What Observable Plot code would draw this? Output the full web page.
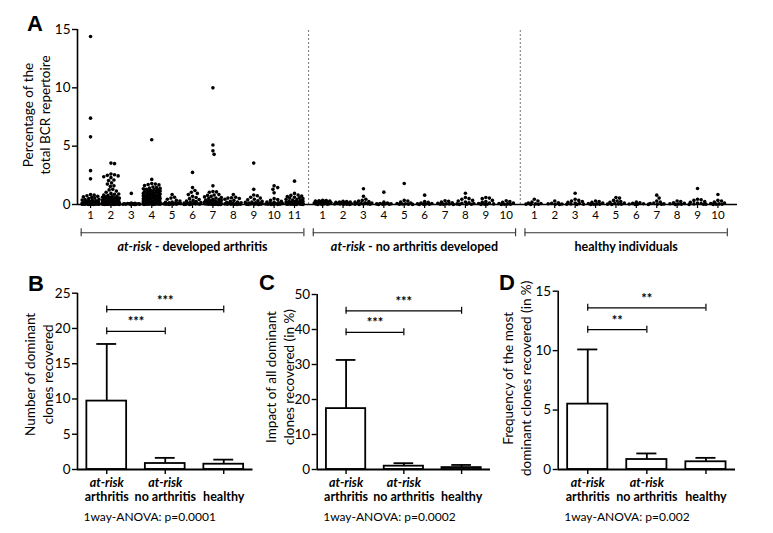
<!DOCTYPE html>
<html><head><meta charset="utf-8">
<script src="https://cdn.jsdelivr.net/npm/d3@7"></script>
<script src="https://cdn.jsdelivr.net/npm/@observablehq/plot@0.6"></script>
<style>
body{margin:0;background:#fff;}
#fig{position:relative;width:773px;height:533px;overflow:hidden;background:#fff;}
.panel{position:absolute;}
.letter{position:absolute;font-family:"Liberation Sans",Arial,sans-serif;font-weight:bold;font-size:22px;line-height:1;color:#000;}
</style></head><body><div id="fig"></div>
<script>
// ---------------- DATA ----------------
const groupNames = ["at-risk - developed arthritis", "at-risk - no arthritis developed", "healthy individuals"];

const arthritisPatients = [
  [14.4, 7.4, 5.8, 2.9, 2.2, 0.85, 0.8, 0.75, 0.7, 0.65, 0.6, 0.55, 0.5, 0.45, 0.42, 0.38, 0.35, 0.32, 0.3, 0.28, 0.25, 0.22, 0.2, 0.18, 0.16, 0.15, 0.13, 0.12, 0.1, 0.1, 0.09, 0.08, 0.07, 0.06, 0.05, 0.05, 0.04, 0.04, 0.03, 0.03, 0.02, 0.02, 0.02, 0.01, 0.01, 0.01],
  [3.55, 3.5, 2.62, 2.55, 2.5, 2.45, 2.38, 2.3, 2.1, 2.05, 1.85, 1.75, 1.6, 1.55, 1.3, 1.25, 1.15, 1.05, 0.95, 0.9, 0.88, 0.82, 0.78, 0.72, 0.68, 0.65, 0.62, 0.6, 0.58, 0.55, 0.52, 0.5, 0.48, 0.45, 0.42, 0.4, 0.38, 0.36, 0.34, 0.32, 0.3, 0.28, 0.27, 0.25, 0.24, 0.22, 0.21, 0.2, 0.19, 0.18, 0.17, 0.16, 0.15, 0.14, 0.13, 0.12, 0.11, 0.1, 0.1, 0.09, 0.09, 0.08, 0.08, 0.07, 0.07, 0.06, 0.06, 0.05, 0.05, 0.05, 0.04, 0.04, 0.04, 0.03, 0.03, 0.03, 0.02, 0.02, 0.02, 0.02, 0.01, 0.01, 0.01, 0.01],
  [0.95, 0.12, 0.1, 0.08, 0.07, 0.06, 0.05, 0.05, 0.04, 0.03, 0.03, 0.02, 0.02, 0.01, 0.01, 0.01],
  [5.55, 2.15, 1.8, 1.75, 1.72, 1.68, 1.62, 1.5, 1.45, 1.4, 1.38, 1.35, 1.3, 1.28, 1.25, 1.2, 1.18, 1.15, 1.12, 1.1, 1.05, 1.02, 1.0, 0.98, 0.95, 0.92, 0.9, 0.88, 0.85, 0.82, 0.8, 0.78, 0.75, 0.72, 0.7, 0.68, 0.65, 0.62, 0.6, 0.58, 0.55, 0.52, 0.5, 0.48, 0.45, 0.42, 0.4, 0.38, 0.36, 0.34, 0.32, 0.3, 0.28, 0.26, 0.25, 0.24, 0.22, 0.2, 0.19, 0.18, 0.17, 0.16, 0.15, 0.14, 0.13, 0.12, 0.11, 0.1, 0.1, 0.09, 0.09, 0.08, 0.08, 0.07, 0.07, 0.06, 0.06, 0.05, 0.05, 0.04, 0.04, 0.03, 0.03, 0.02, 0.02, 0.01, 0.01],
  [0.85, 0.62, 0.55, 0.45, 0.35, 0.3, 0.22, 0.18, 0.15, 0.12, 0.1, 0.08, 0.06, 0.05, 0.04, 0.03, 0.02, 0.02, 0.01],
  [2.75, 1.45, 1.2, 1.05, 0.95, 0.85, 0.7, 0.6, 0.5, 0.42, 0.35, 0.3, 0.25, 0.2, 0.16, 0.13, 0.1, 0.08, 0.06, 0.05, 0.04, 0.03, 0.02, 0.01, 0.01],
  [10.0, 5.1, 4.6, 4.3, 1.6, 1.12, 1.08, 1.05, 0.85, 0.82, 0.78, 0.7, 0.65, 0.6, 0.55, 0.5, 0.45, 0.42, 0.38, 0.35, 0.32, 0.3, 0.27, 0.25, 0.22, 0.2, 0.18, 0.16, 0.15, 0.13, 0.12, 0.1, 0.1, 0.09, 0.08, 0.07, 0.06, 0.05, 0.05, 0.04, 0.04, 0.03, 0.03, 0.02, 0.02, 0.01, 0.01, 0.01],
  [0.85, 0.62, 0.58, 0.55, 0.52, 0.45, 0.35, 0.28, 0.22, 0.18, 0.14, 0.1, 0.08, 0.06, 0.05, 0.04, 0.03, 0.02, 0.02, 0.01, 0.01],
  [3.55, 1.3, 0.82, 0.75, 0.62, 0.55, 0.45, 0.4, 0.32, 0.28, 0.22, 0.18, 0.15, 0.12, 0.1, 0.08, 0.06, 0.05, 0.04, 0.03, 0.02, 0.02, 0.01, 0.01],
  [1.6, 1.45, 1.3, 1.0, 0.5, 0.42, 0.35, 0.28, 0.22, 0.18, 0.14, 0.1, 0.08, 0.06, 0.05, 0.04, 0.03, 0.02, 0.02, 0.01, 0.01],
  [2.0, 0.95, 0.82, 0.78, 0.72, 0.68, 0.62, 0.58, 0.55, 0.5, 0.45, 0.42, 0.38, 0.35, 0.3, 0.28, 0.25, 0.22, 0.2, 0.18, 0.16, 0.14, 0.12, 0.1, 0.1, 0.09, 0.08, 0.07, 0.06, 0.05, 0.05, 0.04, 0.04, 0.03, 0.03, 0.02, 0.02, 0.01, 0.01]
];

const noArthritisPatients = [
  [0.35, 0.33, 0.32, 0.3, 0.3, 0.28, 0.25, 0.22, 0.2, 0.18, 0.15, 0.12, 0.1, 0.08, 0.06, 0.05, 0.04, 0.03, 0.02, 0.01],
  [0.28, 0.25, 0.22, 0.2, 0.18, 0.15, 0.12, 0.1, 0.08, 0.06, 0.05, 0.04, 0.03, 0.02, 0.01],
  [1.35, 0.7, 0.45, 0.35, 0.3, 0.25, 0.2, 0.15, 0.12, 0.1, 0.08, 0.06, 0.04, 0.03, 0.02, 0.01],
  [1.06, 0.2, 0.12, 0.08, 0.06, 0.05, 0.04, 0.03, 0.02, 0.01],
  [1.8, 0.35, 0.3, 0.2, 0.12, 0.08, 0.06, 0.04, 0.03, 0.02, 0.01],
  [0.8, 0.25, 0.18, 0.12, 0.08, 0.06, 0.04, 0.03, 0.02, 0.01],
  [0.32, 0.28, 0.2, 0.15, 0.1, 0.07, 0.05, 0.03, 0.02, 0.01],
  [0.97, 0.6, 0.5, 0.45, 0.35, 0.3, 0.22, 0.15, 0.1, 0.08, 0.05, 0.03, 0.02, 0.01],
  [0.6, 0.55, 0.5, 0.35, 0.25, 0.18, 0.12, 0.08, 0.05, 0.03, 0.02, 0.01],
  [0.32, 0.25, 0.18, 0.12, 0.08, 0.05, 0.03, 0.02, 0.01]
];

const healthyPatients = [
  [0.45, 0.3, 0.2, 0.12, 0.08, 0.05, 0.03, 0.02, 0.01],
  [0.3, 0.15, 0.1, 0.06, 0.04, 0.02, 0.01],
  [0.97, 0.45, 0.35, 0.3, 0.25, 0.18, 0.12, 0.08, 0.05, 0.03, 0.02, 0.01],
  [0.3, 0.25, 0.18, 0.12, 0.08, 0.05, 0.03, 0.02, 0.01],
  [0.6, 0.55, 0.35, 0.3, 0.25, 0.18, 0.12, 0.08, 0.05, 0.03, 0.02, 0.01],
  [0.2, 0.15, 0.1, 0.06, 0.04, 0.02, 0.01],
  [0.8, 0.55, 0.3, 0.2, 0.12, 0.08, 0.05, 0.03, 0.02, 0.01],
  [0.3, 0.25, 0.15, 0.1, 0.06, 0.04, 0.02, 0.01],
  [1.37, 0.45, 0.4, 0.35, 0.25, 0.18, 0.12, 0.08, 0.05, 0.03, 0.02, 0.01],
  [0.86, 0.35, 0.3, 0.2, 0.12, 0.08, 0.05, 0.03, 0.02, 0.01]
];

const yTicksA = [0, 5, 10, 15];

const barGroups = ["arthritis", "no arthritis", "healthy"];
const barPrefix = ["at-risk", "at-risk", ""];
const countMean = [9.7, 0.85, 0.75];
const countUpper = [17.8, 1.65, 1.4];
const impactMean = [17.4, 0.95, 0.55];
const impactUpper = [31.3, 1.8, 1.3];
const freqMean = [5.5, 0.84, 0.65];
const freqUpper = [10.1, 1.35, 0.98];
const comparisons = [[0, 1], [0, 2]];
const countStars = ["***", "***"];
const impactStars = ["***", "***"];
const freqStars = ["**", "**"];
const countAnova = "1way-ANOVA: p=0.0001";
const impactAnova = "1way-ANOVA: p=0.0002";
const freqAnova = "1way-ANOVA: p=0.002";

// ---------------- HELPERS ----------------
const FONT = "Lato, 'Open Sans', sans-serif";
const fig = document.getElementById("fig");

function place(node, left, top) {
  node.classList.add("panel");
  node.style.left = left + "px";
  node.style.top = top + "px";
  fig.appendChild(node);
}
function letter(t, left, top) {
  const d = document.createElement("div");
  d.className = "letter";
  d.textContent = t;
  d.style.left = left + "px";
  d.style.top = top + "px";
  fig.appendChild(d);
}
function italicizeAtRisk(svg) {
  d3.select(svg).selectAll("text").each(function () {
    const t = this.textContent;
    if (t.startsWith("at-risk") && t.length > 7 && !this.querySelector("tspan")) {
      const rest = t.slice(7);
      this.textContent = "";
      d3.select(this).append("tspan").attr("font-style", "italic").text("at-risk");
      d3.select(this).append("tspan").text(rest);
    }
  });
}
// deterministic beeswarm: returns pixel offsets
function swarm(values, yPx, r, maxHalf) {
  const order = values.map((v, i) => i).sort((a, b) => values[b] - values[a]);
  const placed = [];
  const off = new Array(values.length).fill(0);
  const step = 0.6;
  for (const i of order) {
    const y = yPx(values[i]);
    let bestX = 0, bestD = -1, found = false;
    for (let k = 0; k * step <= maxHalf && !found; k++) {
      const cands = k === 0 ? [0] : [k * step, -k * step];
      for (const x of cands) {
        let dmin = Infinity;
        for (const p of placed) {
          const d = Math.hypot(p[0] - x, p[1] - y);
          if (d < dmin) dmin = d;
        }
        if (dmin >= 2 * r) { bestX = x; found = true; break; }
        if (dmin > bestD) { bestD = dmin; bestX = x; }
      }
    }
    placed.push([bestX, y]);
    off[i] = bestX;
  }
  return off;
}

// ---------------- PANEL A ----------------
{
  const W = 773, H = 262, ml = 77, mr = 36, mt = 29, mb = 58;
  const gap = 0.38;
  const patientGroups = [arthritisPatients, noArthritisPatients, healthyPatients];
  const slots = [], spans = [];
  let pos = 1;
  patientGroups.forEach((g, gi) => {
    const first = pos;
    g.forEach((vals, pi) => { slots.push({group: gi, label: String(pi + 1), pos, vals}); pos += 1; });
    spans.push({name: groupNames[gi], first, last: pos - 1});
    pos += gap;
  });
  const xDomain = [1 - 0.64, spans[2].last + 0.96];
  const yMax = 15;
  const pxPerX = (W - ml - mr) / (xDomain[1] - xDomain[0]);
  const pxPerY = (H - mt - mb) / yMax;
  const r = 1.8;
  const dots = [];
  for (const s of slots) {
    const offs = swarm(s.vals, v => -v * pxPerY, r, 8.5);
    s.vals.forEach((v, i) => dots.push({x: s.pos + offs[i] / pxPerX, y: v}));
  }
  const separators = [0, 1].map(i => (spans[i].last + spans[i + 1].first) / 2);
  const labelByPos = new Map(slots.map(s => [s.pos, s.label]));
  const bracketY = -28.3 / pxPerY, bracketTick = 4 / pxPerY, labelY = -42.7 / pxPerY;
  const ends = spans.flatMap(s => [s.first - 0.46, s.last + 0.46]);

  const svg = Plot.plot({
    width: W, height: H,
    marginLeft: ml, marginRight: mr, marginTop: mt, marginBottom: mb,
    style: {fontFamily: FONT, background: "transparent", overflow: "visible", color: "#000"},
    x: {domain: xDomain},
    y: {domain: [0, yMax]},
    marks: [
      Plot.ruleX(separators, {x: d => d, y1: () => 0, y2: () => yMax, stroke: "#666", strokeWidth: 0.9, strokeDasharray: "2,2"}),
      Plot.dot(dots, {x: "x", y: "y", r, fill: "#000", stroke: null}),
      Plot.ruleY([0], {stroke: "#000", strokeWidth: 1.6}),
      Plot.ruleX([xDomain[0]], {y1: () => 0, y2: () => yMax, stroke: "#000", strokeWidth: 1.6}),
      Plot.axisY(yTicksA, {tickSize: 5, tickPadding: 2, fontSize: 13.5, label: null, strokeWidth: 1.4}),
      Plot.axisX(slots.map(s => s.pos), {tickFormat: p => labelByPos.get(p), tickSize: 4, tickPadding: 2, fontSize: 11.5, label: null, strokeWidth: 1.2}),
      Plot.text(["Percentage of the\ntotal BCR repertoire"], {frameAnchor: "left", textAnchor: "middle", lineAnchor: "middle", text: d => d, rotate: -90, dx: -41.5, dy: -2, fontSize: 13.5, lineHeight: 1.3}),
      Plot.ruleY(spans, {y: () => bracketY, x1: d => d.first - 0.46, x2: d => d.last + 0.46, stroke: "#333", strokeWidth: 1.1}),
      Plot.ruleX(ends, {x: d => d, y1: () => bracketY - bracketTick, y2: () => bracketY + bracketTick, stroke: "#333", strokeWidth: 1.1}),
      Plot.text(spans, {x: d => (d.first + d.last) / 2, y: () => labelY, text: "name", fontSize: 12.5, fontWeight: "bold"})
    ]
  });
  italicizeAtRisk(svg);
  place(svg, 0, 0);
}

// ---------------- PANELS B, C, D ----------------
function barPanel(cfg) {
  const {left, top, width, height, ml, mr, mt, mb, yMax, ticks, means, uppers, stars, anova, ylabel, ldx, ldy} = cfg;
  const idx = means.map((d, i) => i);
  const pxPerY = (height - mt - mb) / yMax;
  const levels = [0.784 * yMax, 0.907 * yMax];
  const sig = comparisons.map(([a, b], k) => ({a, b, label: stars[k], level: levels[k]}));
  const capT = 3.5 / pxPerY;
  const svg = Plot.plot({
    width, height, marginLeft: ml, marginRight: mr, marginTop: mt, marginBottom: mb,
    style: {fontFamily: FONT, background: "transparent", overflow: "visible", color: "#000"},
    x: {domain: [-0.5, 2.5]},
    y: {domain: [0, yMax]},
    marks: [
      Plot.ruleX(idx, {x: i => i, y1: i => means[i], y2: i => uppers[i], stroke: "#000", strokeWidth: 1.8}),
      Plot.ruleY(idx, {y: i => uppers[i], x1: i => i - 0.17, x2: i => i + 0.17, stroke: "#000", strokeWidth: 1.8}),
      Plot.rectY(idx, {x1: i => i - 0.34, x2: i => i + 0.34, y1: () => 0, y2: i => means[i], fill: "#fff", stroke: "#000", strokeWidth: 1.8}),
      Plot.ruleY([0], {stroke: "#000", strokeWidth: 1.8}),
      Plot.ruleX([-0.5], {y1: () => 0, y2: () => yMax, stroke: "#000", strokeWidth: 1.6}),
      Plot.axisY(ticks, {tickSize: 5, tickPadding: 2, fontSize: 13.5, label: null, strokeWidth: 1.4}),
      Plot.axisX(idx, {tickFormat: () => "", tickSize: 5, label: null, strokeWidth: 1.4}),
      Plot.ruleY(sig, {y: "level", x1: "a", x2: "b", stroke: "#000", strokeWidth: 1.2}),
      Plot.ruleX(sig.flatMap(d => [{x: d.a, y: d.level}, {x: d.b, y: d.level}]), {x: "x", y1: d => d.y - capT, y2: d => d.y + capT, stroke: "#000", strokeWidth: 1.2}),
      Plot.text(sig, {x: d => (d.a + d.b) / 2, y: "level", text: "label", dy: -9, fontSize: 13, fontWeight: "bold"}),
      Plot.text(idx, {x: i => i, y: () => 0, text: i => barPrefix[i], dy: 13, fontSize: 12.5, fontWeight: "bold", fontStyle: "italic"}),
      Plot.text(idx, {x: i => i, y: () => 0, text: i => barGroups[i], dy: 27, fontSize: 12.5, fontWeight: "bold"}),
      Plot.text([anova], {x: () => -0.5, y: () => 0, text: d => d, textAnchor: "start", dx: 6, dy: 48, fontSize: 12}),
      Plot.text([ylabel], {frameAnchor: "left", textAnchor: "middle", lineAnchor: "middle", text: d => d, rotate: -90, dx: ldx, dy: ldy, fontSize: 13.5, lineHeight: 1.3})
    ]
  });
  place(svg, left, top);
}

barPanel({left: 0, top: 280, width: 260, height: 242, ml: 77, mr: 7.5, mt: 12.7, mb: 53, yMax: 25,
  ticks: [0, 5, 10, 15, 20, 25], means: countMean, uppers: countUpper, stars: countStars, anova: countAnova,
  ylabel: "Number of dominant\nclones recovered", ldx: -39, ldy: -7});
barPanel({left: 260, top: 280, width: 230, height: 242, ml: 56.7, mr: 0, mt: 14, mb: 53, yMax: 50,
  ticks: [0, 10, 20, 30, 40, 50], means: impactMean, uppers: impactUpper, stars: impactStars, anova: impactAnova,
  ylabel: "Impact of all dominant\nclones recovered (in %)", ldx: -38, ldy: -5});
barPanel({left: 490, top: 280, width: 283, height: 242, ml: 67.7, mr: 38, mt: 10.7, mb: 53, yMax: 15,
  ticks: [0, 5, 10, 15], means: freqMean, uppers: freqUpper, stars: freqStars, anova: freqAnova,
  ylabel: "Frequency of the most\ndominant clones recovered (in %)", ldx: -42, ldy: -2});

letter("A", 27, 13);
letter("B", 28, 273);
letter("C", 259, 272);
letter("D", 499, 272);
</script></body></html>
